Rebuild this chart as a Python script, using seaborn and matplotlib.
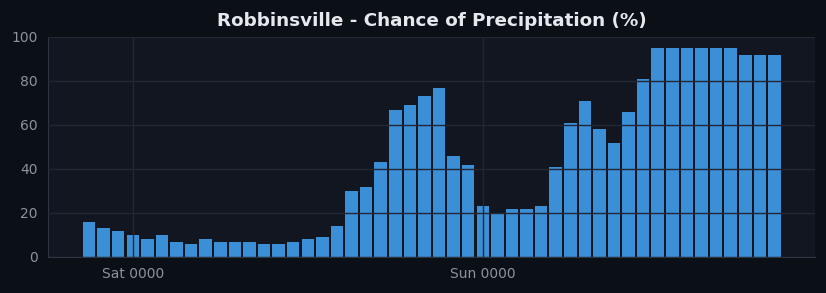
# plot.py
# Hourly chance of precipitation for Robbinsville, drawn as a dark themed bar chart

import numpy as np
import pandas as pd
import matplotlib
matplotlib.use("Agg")
import matplotlib.pyplot as plt
import seaborn as sns

# Hours since Fri 21:00 (one bar per hour, 48 bars)
hours = list(range(48))
precip = [16, 13, 12, 10, 8, 10, 7, 6, 8, 7, 7, 7, 6, 6, 7,
          8, 9, 14, 30, 32, 43, 67, 69, 73, 77, 46, 42, 23, 20, 22, 22, 23,
          41, 61, 71, 58, 52, 66, 81, 95, 95, 95, 95, 95, 95, 92, 92, 92]
tick_hours = [3, 27]
tick_labels = ["Sat 0000", "Sun 0000"]

df = pd.DataFrame({"hour": hours, "precip": precip})

# Colours
fig_bg = "#0b0f16"
ax_bg = "#121620"
grid_col = "#232734"
text_col = "#8d929c"
bar_col = "#3a8fd6"

sns.set_style("dark")
plt.rcParams["font.family"] = ["DejaVu Sans"]

fig = plt.figure(figsize=(8.26, 2.93), dpi=100, facecolor=fig_bg)
ax = fig.add_axes([0.058, 0.123, 0.929, 0.751])
ax.set_facecolor(ax_bg)

sns.barplot(data=df, x="hour", y="precip", native_scale=True, width=0.86,
            color=bar_col, saturation=1, edgecolor="none", ax=ax)

# Grid on top of bars, as in the reference
ax.set_axisbelow(False)
ax.grid(True, color=grid_col, linewidth=1)

ax.set_ylim(0, 100)
ax.set_yticks(np.arange(0, 101, 20))
ax.set_xlim(-2.82, 49.8)
ax.set_xticks(tick_hours)
ax.set_xticklabels(tick_labels)

ax.set_xlabel("")
ax.set_ylabel("")
ax.tick_params(colors=text_col, labelsize=10, length=4, color="#5a606c")
for side in ["top", "right"]:
    ax.spines[side].set_visible(False)
for side in ["left", "bottom"]:
    ax.spines[side].set_visible(True)
    ax.spines[side].set_color("#2e3442")

ax.set_title("Robbinsville - Chance of Precipitation (%)", color="#e6e8ee",
             fontsize=13.25, fontweight="bold", pad=8)

fig.savefig("out.png", dpi=100, facecolor=fig_bg)
